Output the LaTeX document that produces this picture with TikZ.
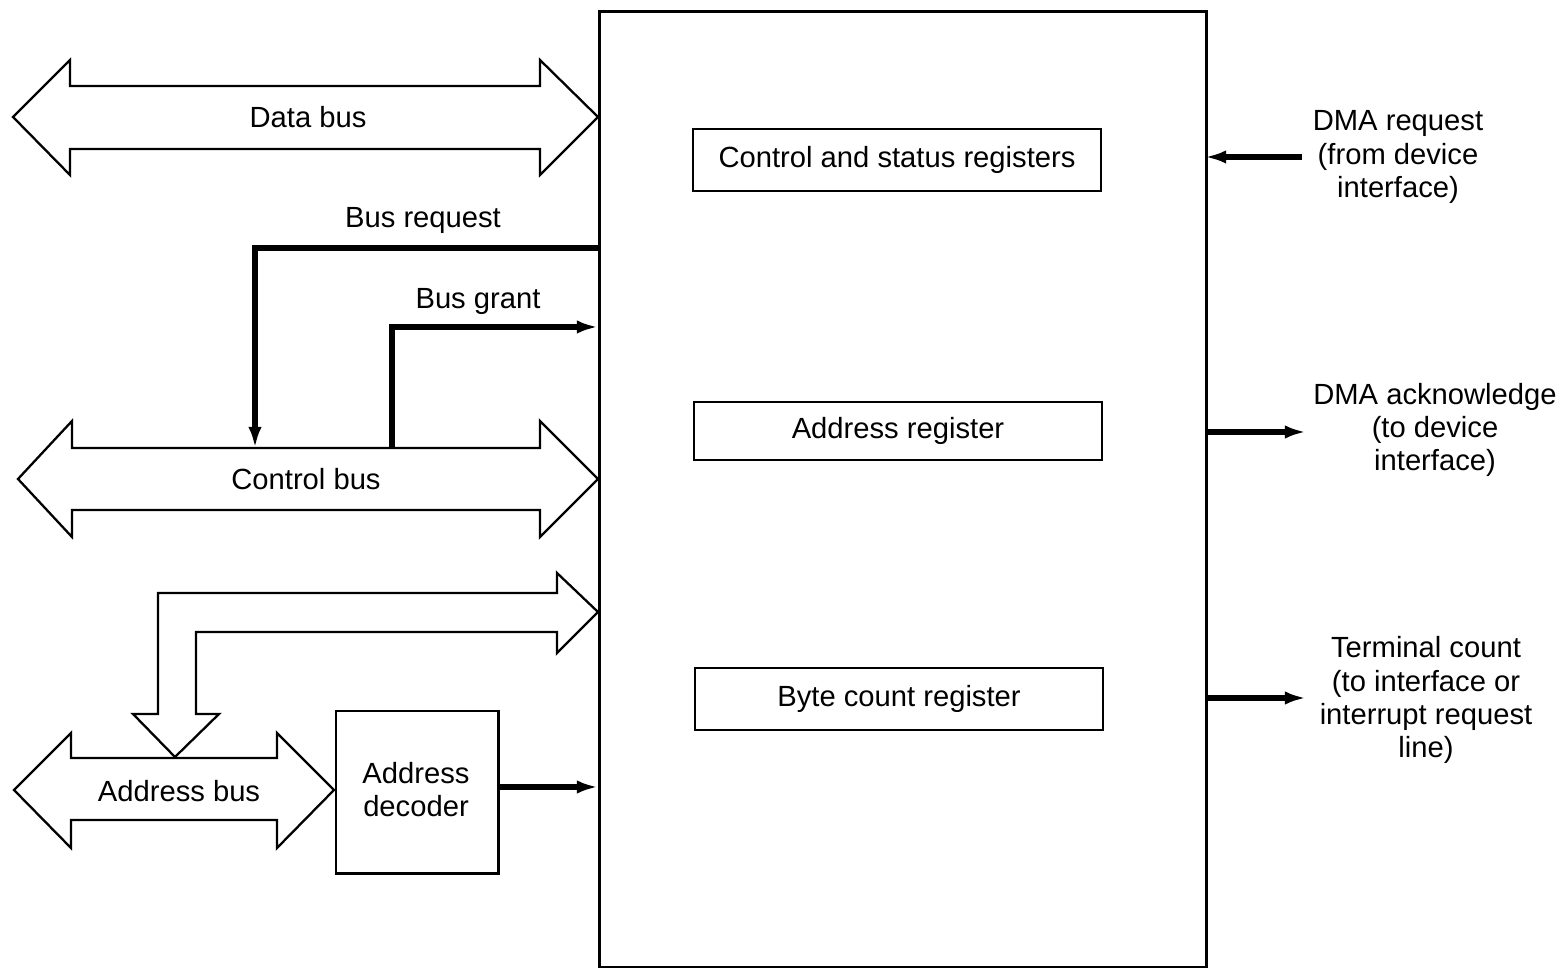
\documentclass[tikz,border=0pt]{standalone}
\usepackage{fontspec}
\setmainfont{Liberation Sans}
\usetikzlibrary{arrows.meta}
\begin{document}
\begin{tikzpicture}[x=0.01cm,y=-0.01cm,
  txt/.style={font=\fontsize{8.3}{9.4}\selectfont, inner sep=0pt, align=center},
  frame/.style={draw, line width=0.8pt, inner sep=0pt},
  bus/.style={draw, line width=0.65pt, fill=white, line join=miter},
  reg/.style={draw, line width=0.7pt, minimum width=4.08cm, minimum height=0.62cm, inner sep=0pt,
              font=\fontsize{8.3}{9.4}\selectfont},
  sig/.style={line width=1.5pt, -{Latex[length=6pt,width=3.8pt]}},
  wire/.style={line width=1.5pt}]
\useasboundingbox (0,0) rectangle (1564,968);

% DMA controller outline
\node[frame, anchor=north west, minimum width=6.07cm, minimum height=9.55cm] (dma) at (598,10) {};

% internal registers
\node[reg] (csr) at (897,160) {Control and status registers};
\node[reg, minimum height=0.58cm] (areg) at (898,431) {Address register};
\node[reg] (bcr) at (899,699) {Byte count register};

% data bus
\draw[bus] (13,117) -- (70,60) -- (70,86) -- (540,86) -- (540,60) -- (598,117)
  -- (540,175) -- (540,149) -- (70,149) -- (70,175) -- cycle;
\node[txt] (dbl) at (308,117) {Data bus};

% control bus
\draw[bus] (18,479) -- (72,421) -- (72,448) -- (540,448) -- (540,421) -- (598,479)
  -- (540,537) -- (540,510) -- (72,510) -- (72,537) -- cycle;
\node[txt] (cbl) at (306,479) {Control bus};

% address bus
\draw[bus] (14,790) -- (71,733) -- (71,758) -- (277,758) -- (277,733) -- (334,790)
  -- (277,848) -- (277,820) -- (71,820) -- (71,848) -- cycle;
\node[txt] (abl) at (179,791) {Address bus};

% address bus branch into the controller
\draw[bus] (158,714) -- (158,593) -- (557,593) -- (557,573) -- (598,612) -- (557,653)
  -- (557,632) -- (196,632) -- (196,714) -- (219,714) -- (175,757) -- (133,714) -- cycle;

% address decoder
\node[frame, line width=0.7pt, minimum width=1.62cm, minimum height=1.62cm,
      anchor=north west] (dec) at (335,710) {};
\node[txt] (decl) at (416,790) {Address\\decoder};

% bus request / bus grant handshake
\coordinate (brqA) at (598,248);
\coordinate (brqB) at (255,448);
\coordinate (bgnA) at (392,448);
\coordinate (bgnB) at (598,327);
\draw[sig] (brqA) -| (brqB);
\draw[sig] (bgnA) |- (bgnB);
\node[txt] (brql) at (423,221) {Bus request};
\node[txt] (bgnl) at (478,302) {Bus grant};

% decoder select line
\coordinate (decOut) at (598,787);
\draw[sig] (dec.east |- decOut) -- (decOut);

% device side signals
\coordinate (reqA) at (1302,157);
\coordinate (reqB) at (1205,157);
\coordinate (ackA) at (1205,432);
\coordinate (ackB) at (1306,432);
\coordinate (tcA) at (1205,698);
\coordinate (tcB) at (1306,698);
\draw[sig] (reqA) -- (reqB);
\draw[sig] (ackA) -- (ackB);
\draw[sig] (tcA) -- (tcB);
\node[txt] (reql) at (1398,157) {DMA request\\(from device\\interface)};
\node[txt] (ackl) at (1435,430) {DMA acknowledge\\(to device\\interface)};
\node[txt] (tcl) at (1426,700) {Terminal count\\(to interface or\\interrupt request\\line)};
\end{tikzpicture}
\end{document}
